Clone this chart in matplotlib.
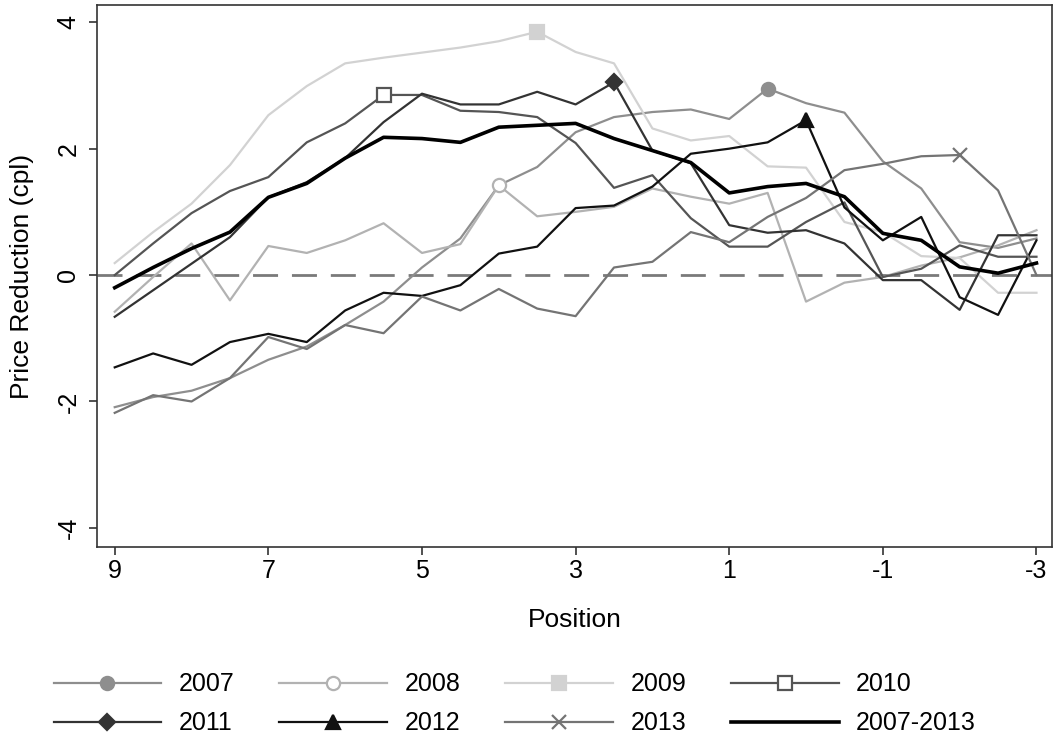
import numpy as np
import matplotlib
matplotlib.use("Agg")
import matplotlib.pyplot as plt

plt.rcParams['font.family'] = ['Liberation Sans', 'DejaVu Sans']
plt.rcParams['axes.unicode_minus'] = False

# positions (9 down to -3 in half steps)
position = [9, 8.5, 8, 7.5, 7, 6.5, 6, 5.5, 5, 4.5, 4, 3.5, 3, 2.5, 2, 1.5, 1, 0.5, 0, -0.5, -1, -1.5, -2, -2.5, -3]

y2007 = [-2.09, -1.93, -1.83, -1.63, -1.34, -1.13, -0.79, -0.42, 0.12, 0.58, 1.42, 1.71, 2.26, 2.50, 2.58, 2.62, 2.47, 2.95, 2.72, 2.57, 1.80, 1.37, 0.52, 0.43, 0.58]
y2008 = [-0.58, -0.03, 0.50, -0.40, 0.46, 0.35, 0.55, 0.82, 0.35, 0.49, 1.42, 0.93, 1.00, 1.08, 1.37, 1.24, 1.13, 1.30, -0.42, -0.12, -0.03, 0.15, 0.28, 0.47, 0.71]
y2009 = [0.19, 0.68, 1.13, 1.74, 2.53, 2.99, 3.35, 3.44, 3.52, 3.60, 3.70, 3.85, 3.53, 3.35, 2.32, 2.13, 2.20, 1.72, 1.70, 0.84, 0.68, 0.30, 0.27, -0.28, -0.28]
y2010 = [0.00, 0.50, 0.98, 1.33, 1.55, 2.10, 2.40, 2.85, 2.85, 2.60, 2.58, 2.50, 2.09, 1.38, 1.58, 0.90, 0.45, 0.45, 0.84, 1.15, -0.03, 0.10, 0.47, 0.29, 0.29]
y2011 = [-0.66, -0.24, 0.18, 0.60, 1.23, 1.47, 1.85, 2.42, 2.87, 2.70, 2.70, 2.90, 2.70, 3.05, 1.97, 1.77, 0.79, 0.67, 0.71, 0.50, -0.08, -0.08, -0.55, 0.63, 0.63]
y2012 = [-1.46, -1.24, -1.42, -1.06, -0.93, -1.06, -0.56, -0.28, -0.33, -0.16, 0.34, 0.45, 1.06, 1.10, 1.40, 1.92, 2.00, 2.10, 2.45, 1.07, 0.55, 0.92, -0.35, -0.63, 0.55]
y2013 = [-2.18, -1.90, -2.00, -1.63, -0.98, -1.17, -0.79, -0.92, -0.34, -0.56, -0.22, -0.53, -0.65, 0.12, 0.21, 0.68, 0.52, 0.92, 1.22, 1.66, 1.76, 1.88, 1.90, 1.34, 0.00]
yall = [-0.20, 0.12, 0.42, 0.68, 1.23, 1.45, 1.85, 2.18, 2.16, 2.10, 2.34, 2.37, 2.40, 2.16, 1.97, 1.78, 1.30, 1.40, 1.45, 1.24, 0.66, 0.55, 0.13, 0.03, 0.19]

labels = ['2007', '2008', '2009', '2010', '2011', '2012', '2013', '2007-2013']
series = [y2007, y2008, y2009, y2010, y2011, y2012, y2013, yall]
colors = ['#8e8e8e', '#b2b2b2', '#d2d2d2', '#555555', '#333333', '#111111', '#747474', '#000000']
markers = ['o', 'o', 's', 's', 'D', '^', 'x', None]
filled = [True, False, True, False, True, True, True, True]
mark_at = [0.5, 4, 3.5, 5.5, 2.5, 0, -2, None]

fig = plt.figure(figsize=(10.55, 7.44), dpi=100)
ax = fig.add_axes([0.092, 0.265, 0.905, 0.728])

ax.axhline(0, color='#7a7a7a', lw=2, dashes=(9, 5), zorder=1)

handles = []
for lab, ys, c, m, f, mx in zip(labels, series, colors, markers, filled, mark_at):
    lw = 2.6 if lab == '2007-2013' else 1.6
    kw = dict(color=c, lw=lw, label=lab, zorder=2)
    if m is not None:
        idx = position.index(mx)
        kw.update(marker=m, markevery=[idx], markersize=9.5 if m != 'D' else 8.5,
                  markerfacecolor=c if f else 'white', markeredgecolor=c,
                  markeredgewidth=1.6)
    line, = ax.plot(position, ys, **kw)
    handles.append(line)

ax.set_xlim(9.23, -3.2)
ax.set_ylim(-4.3, 4.27)
ax.set_xticks([9, 7, 5, 3, 1, -1, -3])
ax.set_yticks([4, 2, 0, -2, -4])
ax.tick_params(axis='both', labelsize=18, length=6, width=1.2, color='#333333')
ax.tick_params(axis='x', pad=3)
ax.tick_params(axis='y', pad=6)
for t in ax.get_yticklabels():
    t.set_rotation(90)
    t.set_va('center')
ax.set_xlabel('Position', fontsize=19, labelpad=18)
ax.set_ylabel('Price Reduction (cpl)', fontsize=19, labelpad=16)
for s in ax.spines.values():
    s.set_linewidth(1.2)
    s.set_color('#333333')

# legend filled row by row like the original
order = [0, 4, 1, 5, 2, 6, 3, 7]
ax.legend([handles[i] for i in order], [labels[i] for i in order],
          loc='center', bbox_to_anchor=(0.488, 0.054), bbox_transform=fig.transFigure,
          ncol=4, frameon=False, fontsize=18, numpoints=1, handlelength=4.3,
          handletextpad=0.7, columnspacing=1.8, labelspacing=0.6, borderpad=0.2)

fig.savefig('out.png', dpi=100)
